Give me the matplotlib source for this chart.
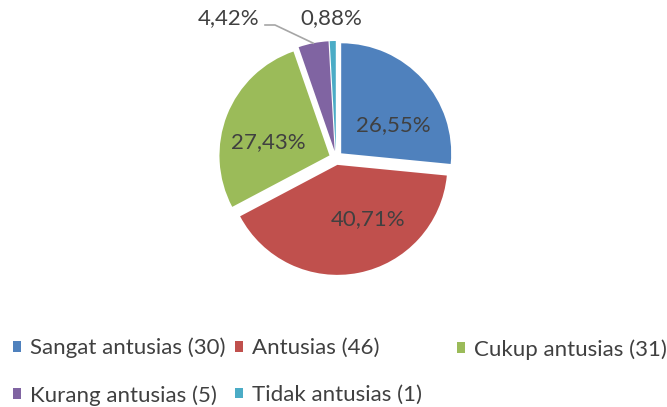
import numpy as np
import matplotlib
matplotlib.use("Agg")
import matplotlib.pyplot as plt

kategori = ["Sangat antusias", "Antusias", "Cukup antusias", "Kurang antusias", "Tidak antusias"]
jumlah = [30, 46, 31, 5, 1]
warna = ["#4F81BD", "#C0504D", "#9BBB59", "#8064A2", "#4BACC6"]

plt.rcParams['font.family'] = ['Lato', 'DejaVu Sans']
abu = "#404040"
fs = 16

fig = plt.figure(figsize=(6.67, 4.07), dpi=100)
# axes placed so that 1 data unit = 100 px, pie centre near (336, 158) px
ax = fig.add_axes([206/667, 119/407, 260/667, 260/407])

r = 1.10
ex = 0.07
wedges, teks, pct = ax.pie(jumlah, colors=warna, startangle=90, counterclock=False,
                           radius=r, explode=[ex]*len(jumlah),
                           autopct=lambda p: ("%.2f%%" % p).replace(".", ","),
                           pctdistance=0.6, textprops=dict(color=abu, fontsize=fs))
ax.set_xlim(-1.3, 1.3)
ax.set_ylim(-1.3, 1.3)

# inner labels where Excel put them
posisi_label = [(0.57, 0.33), (0.32, -0.61), (-0.68, 0.16)]
for t, p in zip(pct[:3], posisi_label):
    t.set_position(p)
for t in pct[3:]:
    t.set_visible(False)

# outside labels for the two small slices
total = sum(jumlah)
persen = [100*v/total for v in jumlah]
w = wedges[3]
tm = np.deg2rad((w.theta1 + w.theta2)/2)
titik = (w.center[0] + r*np.cos(tm), w.center[1] + r*np.sin(tm))
lx, ly = -1.07, 1.40
ax.text(lx, ly, ("%.2f%%" % persen[3]).replace(".", ","), ha="center", va="center",
        color=abu, fontsize=fs, clip_on=False)
ax.plot([lx + 0.36, lx + 0.46, titik[0]], [ly - 0.07, ly - 0.07, titik[1]],
        color="#A6A6A6", lw=1.2, clip_on=False)
ax.text(-0.05, 1.40, ("%.2f%%" % persen[4]).replace(".", ","), ha="center", va="center",
        color=abu, fontsize=fs, clip_on=False)

# legend: three equal-width columns like Excel, rows filled first
kolom = [[0, 3], [1, 4], [2]]
x_kolom = [13, 235, 457]
for idx, xk in zip(kolom, x_kolom):
    h = [wedges[i] for i in idx]
    lab = ["%s (%d)" % (kategori[i], jumlah[i]) for i in idx]
    yk = 35.5 if len(idx) == 2 else 57.5
    leg = fig.legend(h, lab, loc="center left", bbox_to_anchor=(xk/667, yk/407),
                     frameon=False, fontsize=fs, handlelength=0.38, handleheight=0.38,
                     handletextpad=0.4, labelspacing=1.21, borderaxespad=0, borderpad=0)
    for t in leg.get_texts():
        t.set_color(abu)

fig.savefig("out.png", dpi=100)
